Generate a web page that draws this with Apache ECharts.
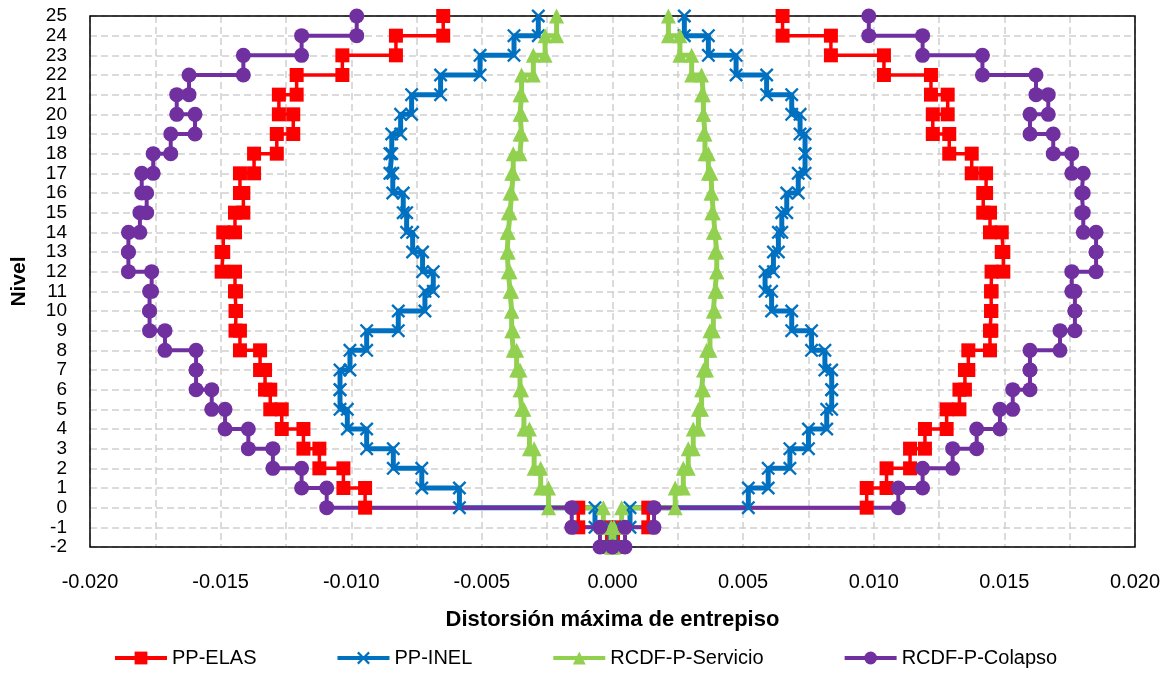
<!DOCTYPE html>
<html>
<head>
<meta charset="utf-8">
<script src="https://cdn.jsdelivr.net/npm/echarts@6/dist/echarts.min.js"></script>
<style>
  html, body { margin: 0; padding: 0; background: #fff; }
  #chart { width: 1171px; height: 676px; }
</style>
</head>
<body>
<div id="chart"></div>
<script>
// Story tops (level at top of each story), from 25 down to -1
const storyTop = [25,24,23,22,21,20,19,18,17,16,15,14,13,12,11,10,9,8,7,6,5,4,3,2,1,0,-1];

// Maximum interstory drift per story (negative side / positive side)
const ppElasNeg = [-0.00648,-0.00829,-0.01034,-0.01209,-0.01277,-0.01222,-0.01285,-0.01372,-0.01426,-0.01413,-0.01445,-0.0149,-0.01496,-0.01445,-0.01441,-0.01443,-0.01426,-0.01349,-0.0133,-0.0131,-0.01266,-0.01183,-0.01122,-0.0103,-0.00947,-0.00131,-0.00022];
const ppElasPos = [0.00651,0.00836,0.01039,0.01219,0.01283,0.01226,0.01289,0.01375,0.0143,0.01419,0.01445,0.0149,0.01496,0.01451,0.01449,0.0145,0.01445,0.01362,0.01349,0.01328,0.01279,0.01196,0.01139,0.01049,0.00973,0.00137,0.00022];

const ppInelNeg = [-0.00284,-0.00377,-0.00507,-0.00658,-0.00769,-0.00811,-0.00845,-0.00852,-0.00841,-0.00801,-0.00788,-0.00765,-0.00727,-0.00686,-0.00718,-0.0082,-0.00941,-0.01005,-0.01043,-0.01043,-0.01015,-0.00941,-0.00839,-0.0073,-0.00586,-0.00067,-0.0001];
const ppInelPos = [0.00275,0.00367,0.00473,0.0059,0.00686,0.00718,0.00737,0.00737,0.00711,0.00667,0.00648,0.00635,0.00616,0.00584,0.00609,0.00686,0.00762,0.00813,0.00839,0.00839,0.0082,0.0075,0.00679,0.00596,0.0052,0.00067,0.0001];

const servicioNeg = [-0.00214,-0.00258,-0.00303,-0.00348,-0.00354,-0.00348,-0.00354,-0.0038,-0.00386,-0.00392,-0.00399,-0.00403,-0.00399,-0.00392,-0.00386,-0.00386,-0.0038,-0.00367,-0.00354,-0.00348,-0.00339,-0.00318,-0.003,-0.00275,-0.00245,-0.00035,-0.00005];
const servicioPos = [0.00214,0.00258,0.00303,0.00341,0.00348,0.00348,0.00354,0.00367,0.00377,0.0038,0.00386,0.00392,0.00399,0.00399,0.00392,0.00386,0.00373,0.0036,0.00348,0.00341,0.00329,0.00309,0.0029,0.00271,0.0024,0.00035,0.00005];

const colapsoNeg = [-0.00979,-0.0119,-0.01413,-0.01621,-0.01668,-0.01598,-0.01691,-0.01758,-0.01802,-0.01783,-0.01809,-0.01853,-0.01853,-0.01764,-0.01772,-0.01772,-0.01713,-0.01594,-0.01594,-0.01534,-0.01483,-0.01394,-0.013,-0.0119,-0.01094,-0.00156,-0.00048];
const colapsoPos = [0.00981,0.01187,0.01416,0.01621,0.01668,0.01598,0.01687,0.01758,0.01802,0.01796,0.01802,0.01851,0.01851,0.01758,0.0177,0.0177,0.01713,0.01598,0.01598,0.01532,0.01483,0.01394,0.01302,0.01187,0.01094,0.00159,0.00048];

const seriesNames = ['PP-ELAS', 'PP-INEL', 'RCDF-P-Servicio', 'RCDF-P-Colapso'];
const xTicks = [-0.020,-0.015,-0.010,-0.005,0.000,0.005,0.010,0.015,0.020];
const baseLevel = -2;

// Build step profile: down the negative side, across the base, up the positive side
function stepPath(neg, pos) {
  const pts = [];
  for (let i = 0; i < storyTop.length; i++) {
    pts.push([neg[i], storyTop[i]]);
    pts.push([neg[i], storyTop[i] - 1]);
  }
  pts.push([0, baseLevel]);
  for (let i = storyTop.length - 1; i >= 0; i--) {
    pts.push([pos[i], storyTop[i] - 1]);
    pts.push([pos[i], storyTop[i]]);
  }
  return pts;
}

const xMarker = 'path://M0,1.2 L1.2,0 L5,3.8 L8.8,0 L10,1.2 L6.2,5 L10,8.8 L8.8,10 L5,6.2 L1.2,10 L0,8.8 L3.8,5 Z';

const FONT = 'Liberation Sans, Arial, sans-serif';
const gridLine = { show: true, lineStyle: { color: '#cfcfcf', width: 1.5, type: [7, 4] } };
const G = { left: 90, right: 36, top: 16, bottom: 129 };

const chart = echarts.init(document.getElementById('chart'), null, { renderer: 'canvas' });
chart.setOption({
  animation: false,
  backgroundColor: '#fff',
  grid: { left: G.left, right: G.right, top: G.top, bottom: G.bottom },
  graphic: [{
    type: 'rect', z: 1, silent: true,
    shape: { x: G.left, y: G.top, width: 1171 - G.left - G.right, height: 676 - G.top - G.bottom },
    style: { fill: 'none', stroke: '#000', lineWidth: 1.5 }
  }],
  legend: {
    data: seriesNames,
    bottom: 3,
    left: 108,
    itemGap: 79,
    itemWidth: 52,
    itemHeight: 16,
    lineStyle: { width: 4 },
    textStyle: { fontFamily: FONT, fontSize: 20, color: '#000' }
  },
  xAxis: {
    type: 'value',
    min: -0.02, max: 0.02, interval: 0.0025,
    name: 'Distorsión máxima de entrepiso',
    nameLocation: 'middle',
    nameGap: 62,
    nameTextStyle: { fontFamily: FONT, fontSize: 22, fontWeight: 'bold', color: '#000' },
    axisLine: { show: false, onZero: false },
    axisTick: { show: false },
    splitLine: gridLine,
    axisLabel: {
      margin: 25,
      fontFamily: FONT, fontSize: 20, color: '#000',
      formatter: function (v) {
        for (const t of xTicks) { if (Math.abs(t - v) < 1e-9) return t.toFixed(3); }
        return '';
      }
    }
  },
  yAxis: {
    type: 'value',
    min: -2, max: 25, interval: 1,
    name: 'Nivel',
    nameLocation: 'middle',
    nameGap: 60,
    nameTextStyle: { fontFamily: FONT, fontSize: 21, fontWeight: 'bold', color: '#000' },
    axisLine: { show: false, onZero: false },
    axisTick: { show: false },
    splitLine: gridLine,
    axisLabel: { margin: 23, fontFamily: FONT, fontSize: 19, color: '#000' }
  },
  series: [
    {
      name: seriesNames[0], type: 'line', data: stepPath(ppElasNeg, ppElasPos),
      symbol: 'rect', symbolSize: 14, showAllSymbol: true,
      lineStyle: { color: '#ff0000', width: 3.5 }, itemStyle: { color: '#ff0000' }
    },
    {
      name: seriesNames[1], type: 'line', data: stepPath(ppInelNeg, ppInelPos),
      symbol: xMarker, symbolSize: 14, showAllSymbol: true,
      lineStyle: { color: '#0070c0', width: 5 }, itemStyle: { color: '#0070c0' }
    },
    {
      name: seriesNames[2], type: 'line', data: stepPath(servicioNeg, servicioPos),
      symbol: 'triangle', symbolSize: 15, showAllSymbol: true,
      lineStyle: { color: '#92d050', width: 5 }, itemStyle: { color: '#92d050' }
    },
    {
      name: seriesNames[3], type: 'line', data: stepPath(colapsoNeg, colapsoPos),
      symbol: 'circle', symbolSize: 15, showAllSymbol: true,
      lineStyle: { color: '#7030a0', width: 4 }, itemStyle: { color: '#7030a0' }
    }
  ]
});
</script>
</body>
</html>
